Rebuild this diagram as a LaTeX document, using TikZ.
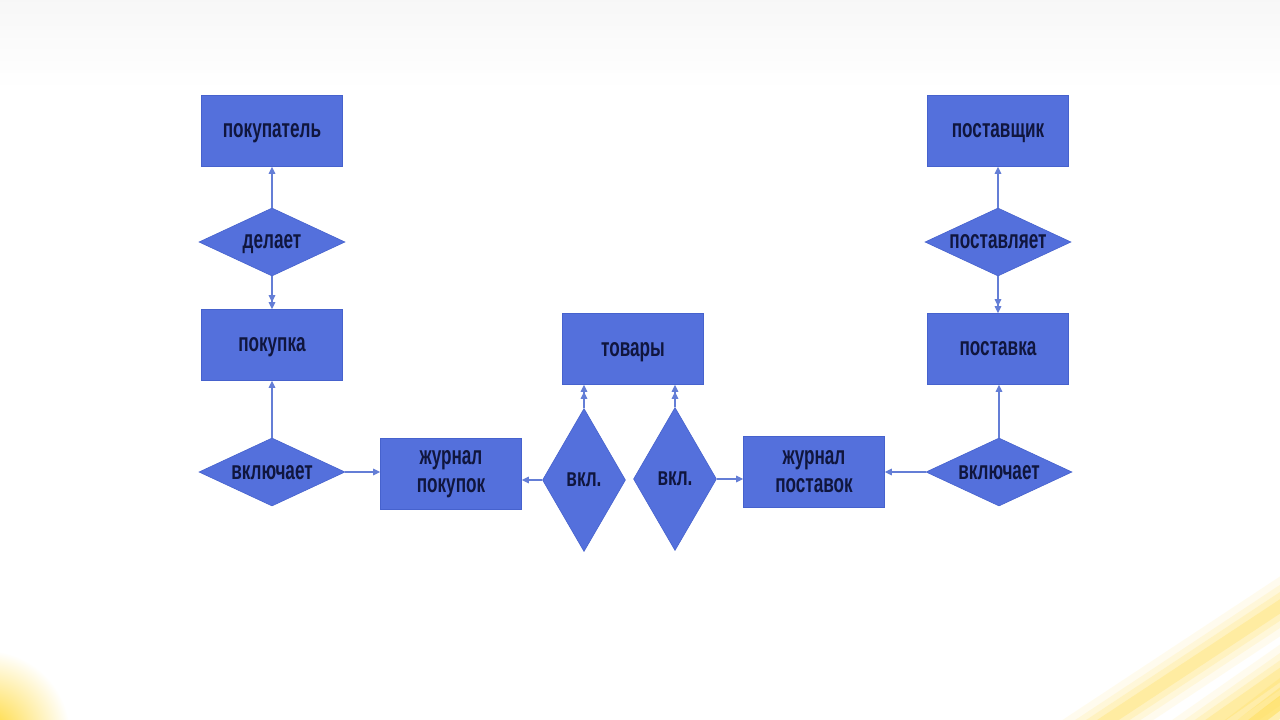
\documentclass[tikz,border=0pt]{standalone}
\usepackage{fontspec}
\newfontfamily\lab{Liberation Sans}[FakeStretch=0.66]
\usetikzlibrary{shapes.geometric,arrows.meta}
\definecolor{boxfill}{RGB}{84,112,220}
\definecolor{boxline}{RGB}{70,98,205}
\definecolor{txt}{RGB}{16,22,62}
\definecolor{lnk}{RGB}{100,126,214}
\definecolor{glow}{RGB}{255,214,40}
\begin{document}
\begin{tikzpicture}[x=1pt,y=-1pt,
  lbl/.style={font=\lab\bfseries\fontsize{26}{28}\selectfont, text=txt, align=center},
  ent/.style={lbl, rectangle, fill=boxfill, draw=boxline, line width=0.6pt,
    minimum width=141pt, minimum height=71pt, inner sep=0pt},
  rel/.style={lbl, diamond, aspect=1, fill=boxfill, draw=boxline, line width=0.6pt, inner sep=0pt, text depth=0pt},
  hrel/.style={rel, minimum width=146pt, minimum height=68pt},
  vrel/.style={rel, minimum width=83pt, minimum height=143pt},
  arr/.style={draw=lnk, line width=1.3pt, -{Triangle[length=7pt,width=6.5pt]}},
  darr/.style={draw=lnk, line width=1.3pt, -{Triangle[length=7pt,width=6.5pt]Triangle[length=7pt,width=6.5pt]}}
]
\useasboundingbox (0,0) rectangle (1280,720);
\fill[white] (0,0) rectangle (1280,720);
\begin{scope}
  \clip (0,0) rectangle (1280,720);
  \shade[top color=black!3, bottom color=white] (0,0) rectangle (1280,90);
  \shade[inner color=glow, outer color=white] (-15,735) circle (85);
  \foreach \w/\o in {50/0.08,36/0.1,24/0.14,12/0.2} {
    \draw[glow, line width=\w pt, opacity=\o] (1070,745) -- (1320,580);
    \draw[glow, line width=\w pt, opacity=\o] (1180,745) -- (1330,640);
  }
  \foreach \w/\o in {40/0.15,25/0.25,12/0.35} {
    \draw[glow, line width=\w pt, opacity=\o] (1225,745) -- (1330,665);
  }
\end{scope}

\node[ent, text depth=0pt] (pokupatel) at (272,131) {покупатель};
\node[hrel] (delaet) at (272,242) {\makebox[0pt]{делает}};
\node[ent, text depth=0pt] (pokupka) at (272,345) {покупка};
\node[hrel] (vklL) at (272,472) {\makebox[0pt]{включает}};
\node[ent] (zhp) at (451,474) {журнал\\покупок};
\node[ent, text depth=0pt] (tovary) at (633,349) {товары};
\node[vrel] (v1) at (584,480) {\makebox[0pt]{вкл.}};
\node[vrel] (v2) at (675,479) {\makebox[0pt]{вкл.}};
\node[ent] (zhs) at (814,472) {журнал\\поставок};
\node[hrel] (vklR) at (999,472) {\makebox[0pt]{включает}};
\node[ent, text depth=0pt] (postavka) at (998,349) {поставка};
\node[hrel] (postavl) at (998,242) {\makebox[0pt]{поставляет}};
\node[ent, text depth=0pt] (postavshik) at (998,131) {поставщик};

\draw[arr] (delaet.north) -- (pokupatel.south);
\draw[darr] (delaet.south) -- (pokupka.north);
\draw[arr] (vklL.north) -- (pokupka.south);
\draw[arr] (vklL.east) -- (vklL.east -| zhp.west);
\draw[arr] (v1.west) -- (v1.west -| zhp.east);
\draw[darr] (v1.north) -- (v1.north |- tovary.south);
\draw[darr] (v2.north) -- (v2.north |- tovary.south);
\draw[arr] (v2.east) -- (v2.east -| zhs.west);
\draw[arr] (vklR.west) -- (vklR.west -| zhs.east);
\draw[arr] (vklR.north) -- (vklR.north |- postavka.south);
\draw[darr] (postavl.south) -- (postavka.north);
\draw[arr] (postavl.north) -- (postavshik.south);
\end{tikzpicture}
\end{document}
